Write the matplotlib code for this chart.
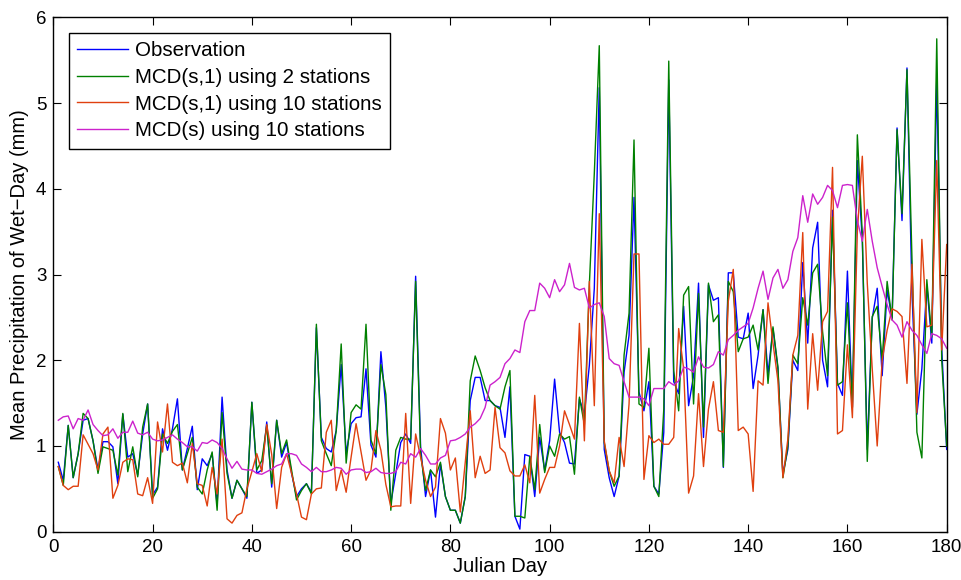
import numpy as np
import matplotlib
matplotlib.use("Agg")
import matplotlib.pyplot as plt

plt.rcParams['font.family'] = ['Liberation Sans', 'DejaVu Sans']

# mean wet-day precipitation (mm), Julian days 1..180
days = np.arange(1, 181)

observation = [
    0.81, 0.60, 1.24, 0.63, 0.91, 1.30, 1.32, 1.06, 0.72, 1.05,
    1.05, 0.99, 0.56, 1.37, 0.87, 0.91, 0.66, 1.14, 1.49, 0.43,
    0.52, 1.20, 0.95, 1.20, 1.55, 0.72, 0.97, 1.23, 0.49, 0.85,
    0.77, 0.91, 0.31, 1.57, 0.72, 0.39, 0.60, 0.50, 0.39, 1.51,
    0.68, 0.72, 1.28, 0.52, 1.30, 0.87, 1.04, 0.68, 0.41, 0.50,
    0.56, 0.46, 2.38, 1.10, 0.97, 0.93, 1.18, 1.95, 0.91, 1.26,
    1.33, 1.34, 1.90, 1.01, 0.87, 2.10, 1.45, 0.33, 0.68, 1.04,
    1.14, 1.03, 2.98, 0.99, 0.41, 0.72, 0.17, 0.79, 0.41, 0.25,
    0.25, 0.10, 0.41, 1.53, 1.80, 1.80, 1.53, 1.53, 1.47, 1.45,
    1.10, 1.69, 0.18, 0.03, 0.90, 0.88, 0.41, 1.10, 0.71, 1.06,
    1.78, 1.16, 1.04, 0.80, 0.79, 1.55, 1.37, 1.94, 2.84, 5.18,
    0.96, 0.63, 0.41, 0.65, 1.86, 2.29, 3.90, 1.63, 1.41, 1.75,
    0.53, 0.44, 1.16, 5.27, 1.75, 1.61, 2.63, 1.47, 1.82, 2.90,
    1.10, 2.88, 2.70, 2.73, 0.75, 3.02, 3.02, 2.27, 2.25, 2.55,
    1.67, 2.06, 2.59, 1.84, 2.37, 1.90, 0.67, 0.96, 2.00, 1.88,
    3.14, 2.20, 3.31, 3.61, 2.00, 1.69, 3.75, 1.73, 1.59, 3.04,
    1.45, 4.33, 3.40, 0.96, 2.49, 2.84, 1.82, 2.82, 2.49, 4.71,
    3.63, 5.41, 2.80, 1.37, 1.90, 2.88, 2.20, 5.29, 2.14, 0.96,
]

mcd_s1_2st = [
    0.76, 0.54, 1.24, 0.63, 0.91, 1.38, 1.32, 1.06, 0.68, 0.99,
    0.97, 0.95, 0.66, 1.38, 0.70, 0.99, 0.64, 1.22, 1.49, 0.39,
    0.50, 1.14, 1.03, 1.17, 1.25, 0.72, 0.91, 1.10, 0.52, 0.44,
    0.72, 0.93, 0.25, 1.39, 0.68, 0.39, 0.60, 0.50, 0.41, 1.51,
    0.72, 0.83, 1.24, 0.56, 1.30, 0.91, 1.07, 0.72, 0.37, 0.48,
    0.56, 0.44, 2.42, 1.06, 0.91, 0.77, 1.18, 2.19, 0.80, 1.39,
    1.48, 1.43, 2.42, 1.07, 0.91, 1.95, 1.60, 0.25, 0.95, 1.10,
    1.08, 1.08, 2.92, 0.91, 0.48, 0.72, 0.64, 0.81, 0.41, 0.25,
    0.25, 0.10, 0.41, 1.76, 2.05, 1.88, 1.68, 1.53, 1.47, 1.43,
    1.69, 1.88, 0.18, 0.18, 0.16, 0.88, 0.49, 1.25, 0.69, 1.00,
    0.88, 1.14, 1.08, 1.11, 0.67, 1.57, 1.25, 2.88, 4.18, 5.67,
    1.04, 0.71, 0.53, 0.65, 2.06, 2.55, 4.57, 1.49, 1.45, 2.14,
    0.53, 0.41, 1.43, 5.49, 1.88, 1.41, 2.76, 2.86, 1.49, 2.78,
    1.22, 2.90, 2.45, 2.53, 0.76, 2.92, 2.80, 2.10, 2.25, 2.27,
    2.41, 2.12, 2.59, 1.73, 2.39, 1.92, 0.63, 1.00, 2.06, 1.96,
    2.73, 2.41, 3.02, 3.12, 2.33, 1.82, 3.67, 1.71, 1.75, 2.67,
    1.45, 4.63, 3.47, 0.82, 2.51, 2.63, 2.00, 2.92, 2.47, 4.69,
    3.71, 5.39, 3.20, 1.16, 0.86, 2.94, 2.27, 5.75, 2.00, 1.00,
]

mcd_s1_10st = [
    0.76, 0.54, 0.49, 0.53, 0.53, 1.13, 1.02, 0.91, 0.72, 1.14,
    1.22, 0.39, 0.54, 0.81, 0.85, 0.84, 0.44, 0.42, 0.63, 0.33,
    1.28, 0.93, 1.49, 0.81, 0.77, 0.80, 0.57, 1.03, 0.56, 0.54,
    0.30, 0.75, 0.44, 1.08, 0.15, 0.10, 0.19, 0.22, 0.50, 0.70,
    0.91, 0.70, 1.25, 0.90, 0.27, 0.75, 0.91, 0.68, 0.44, 0.17,
    0.14, 0.44, 0.50, 0.51, 1.16, 1.30, 0.48, 0.72, 0.46, 0.87,
    1.26, 0.93, 0.60, 0.72, 1.18, 0.95, 0.55, 0.29, 0.30, 0.30,
    1.38, 0.33, 1.14, 0.87, 0.60, 0.41, 0.52, 1.32, 1.15, 0.72,
    0.86, 0.23, 0.81, 1.41, 0.63, 0.88, 0.68, 0.72, 1.45, 0.98,
    0.92, 0.71, 0.65, 0.65, 0.78, 0.57, 1.59, 0.45, 0.61, 0.75,
    0.75, 1.00, 1.41, 1.25, 1.08, 2.43, 1.06, 2.92, 1.47, 3.71,
    1.06, 0.71, 0.57, 1.10, 0.76, 1.49, 3.24, 3.24, 0.61, 1.12,
    1.04, 1.08, 1.02, 1.02, 1.10, 2.37, 1.90, 0.45, 0.65, 1.61,
    0.76, 1.43, 1.75, 1.18, 1.16, 2.69, 3.06, 1.18, 1.22, 1.14,
    0.47, 1.76, 1.71, 2.67, 2.20, 1.76, 0.63, 1.08, 2.06, 2.29,
    3.49, 1.43, 2.31, 1.65, 2.45, 2.57, 4.25, 1.14, 1.18, 2.18,
    1.33, 3.50, 4.38, 2.90, 1.90, 1.00, 2.00, 2.35, 2.60, 2.57,
    2.51, 1.73, 3.12, 1.39, 3.41, 2.39, 2.41, 4.33, 2.12, 3.35,
]

mcd_s_10st = [
    1.30, 1.34, 1.35, 1.20, 1.32, 1.30, 1.42, 1.25, 1.18, 1.12,
    1.13, 1.20, 1.09, 1.16, 1.16, 1.29, 1.15, 1.13, 1.16, 1.08,
    1.06, 1.07, 1.10, 1.13, 1.08, 1.04, 0.99, 0.99, 0.94, 1.04,
    1.03, 1.07, 1.04, 0.97, 0.85, 0.74, 0.82, 0.73, 0.72, 0.72,
    0.68, 0.67, 0.70, 0.73, 0.77, 0.79, 0.91, 0.91, 0.89, 0.79,
    0.75, 0.70, 0.75, 0.70, 0.70, 0.72, 0.75, 0.74, 0.67, 0.72,
    0.73, 0.73, 0.69, 0.70, 0.74, 0.69, 0.68, 0.68, 0.70, 0.81,
    0.79, 0.91, 0.87, 0.97, 0.89, 0.79, 0.79, 0.86, 0.89, 1.06,
    1.07, 1.10, 1.14, 1.22, 1.26, 1.32, 1.45, 1.71, 1.75, 1.80,
    1.96, 2.02, 2.12, 2.09, 2.45, 2.58, 2.58, 2.90, 2.84, 2.73,
    2.94, 2.80, 2.88, 3.13, 2.85, 2.82, 2.84, 2.61, 2.65, 2.67,
    2.51, 2.02, 1.96, 1.94, 1.75, 1.57, 1.57, 1.57, 1.55, 1.47,
    1.67, 1.67, 1.67, 1.75, 1.71, 1.76, 1.92, 1.90, 1.86, 2.04,
    1.92, 1.91, 1.95, 2.10, 2.06, 2.24, 2.29, 2.35, 2.39, 2.43,
    2.61, 2.84, 3.04, 2.71, 2.96, 3.06, 2.84, 2.94, 3.27, 3.43,
    3.92, 3.61, 3.94, 3.82, 3.90, 4.04, 3.98, 3.78, 4.04, 4.05,
    4.04, 3.63, 3.39, 3.76, 3.39, 3.08, 2.86, 2.65, 2.47, 2.41,
    2.27, 2.45, 2.35, 2.29, 2.18, 2.08, 2.31, 2.29, 2.25, 2.14,
]

series = [
    (observation, '#0000FF', 'Observation'),
    (mcd_s1_2st, '#008000', 'MCD(s,1) using 2 stations'),
    (mcd_s1_10st, '#E0400F', 'MCD(s,1) using 10 stations'),
    (mcd_s_10st, '#CC22CC', 'MCD(s) using 10 stations'),
]

fs = 14.5

fig = plt.figure(figsize=(9.61, 5.80), dpi=100)
ax = fig.add_axes([0.0555, 0.0833, 0.9296, 0.8867])

for vals, col, lab in series:
    ax.plot(days, vals, color=col, lw=1.0, label=lab)

ax.set_xlim(0, 180)
ax.set_ylim(0, 6)
ax.set_xticks(np.arange(0, 181, 20))
ax.set_yticks(np.arange(0, 7, 1))
ax.tick_params(direction='in', top=True, right=True, length=6, width=0.8,
               labelsize=13.5, pad=5)
for sp in ax.spines.values():
    sp.set_linewidth(1.0)

ax.set_xlabel('Julian Day', fontsize=fs, labelpad=1)
ax.set_ylabel('Mean Precipitation of Wet\u2212Day (mm)', fontsize=fs, labelpad=5)

leg = ax.legend(loc='upper left', fontsize=14.8, handlelength=2.5,
                handletextpad=0.3, labelspacing=0.38, borderpad=0.4,
                fancybox=False, framealpha=1, borderaxespad=0.75)
leg.get_frame().set_edgecolor('black')
leg.get_frame().set_linewidth(1.0)

fig.savefig('out.png', dpi=100)
